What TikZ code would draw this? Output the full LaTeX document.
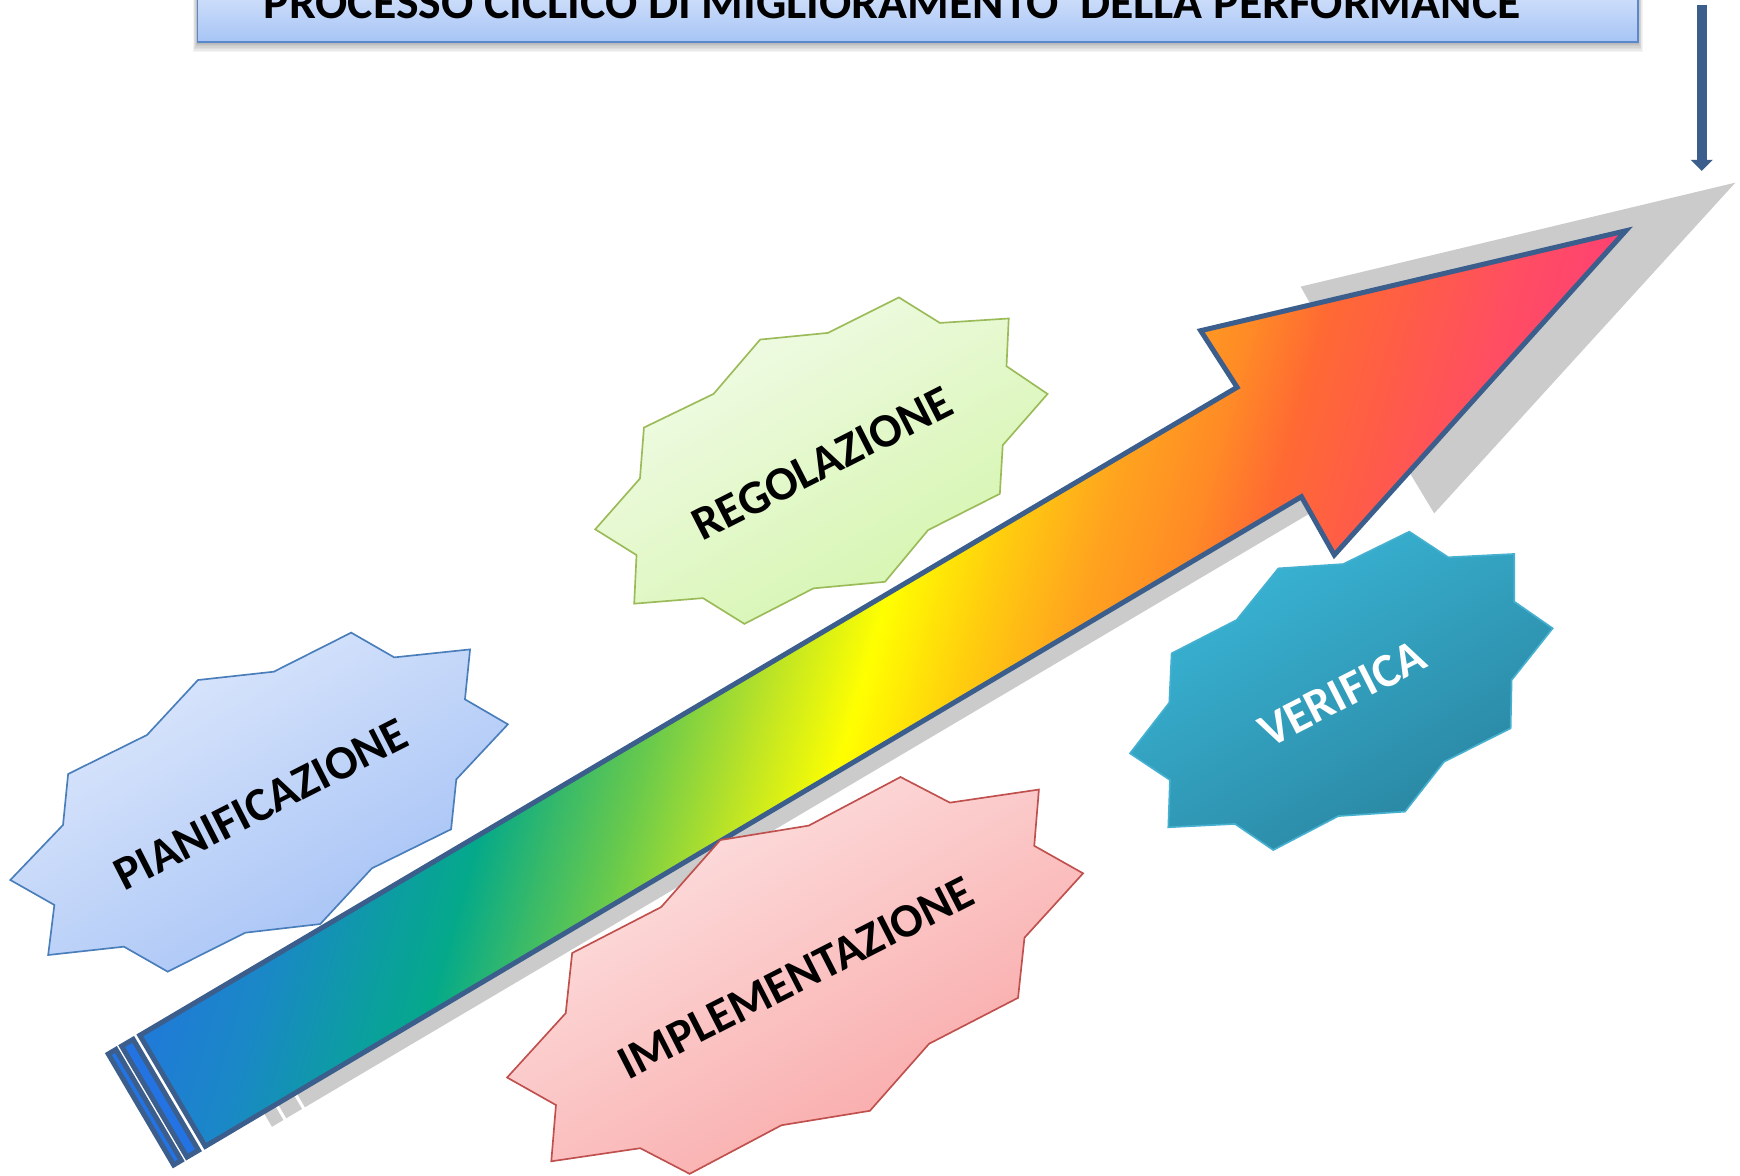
\documentclass[tikz,border=0pt]{standalone}
\usepackage{fontspec}
\setmainfont{Carlito}
\usetikzlibrary{arrows.meta}

\definecolor{edgeblue}{HTML}{3B5E8C}
\definecolor{dropgray}{HTML}{CBCBCB}
\definecolor{titletop}{HTML}{E8EFFE}
\definecolor{titlebot}{HTML}{A6C4F5}
\definecolor{titleedge}{HTML}{5B88CB}
\definecolor{bluetop}{HTML}{DFE9FC}
\definecolor{bluebot}{HTML}{A2C0F5}
\definecolor{blueedge}{HTML}{4A7EBB}
\definecolor{greentop}{HTML}{F2FBE9}
\definecolor{greenbot}{HTML}{D4F5AC}
\definecolor{greenedge}{HTML}{9BBB59}
\definecolor{pinktop}{HTML}{FDE3E3}
\definecolor{pinkbot}{HTML}{F9A5A5}
\definecolor{pinkedge}{HTML}{C0504D}
\definecolor{tealtop}{HTML}{3AB6D7}
\definecolor{tealbot}{HTML}{29849F}
\definecolor{tealedge}{HTML}{46B0D0}
% spectrum stops along the big arrow
\definecolor{g01}{HTML}{2373E2}
\definecolor{g02}{HTML}{1A88C6}
\definecolor{g03}{HTML}{0C9DA2}
\definecolor{g04}{HTML}{04A98A}
\definecolor{g05}{HTML}{36B96A}
\definecolor{g06}{HTML}{6DCB4A}
\definecolor{g07}{HTML}{B8E228}
\definecolor{g08}{HTML}{FFFF00}
\definecolor{g09}{HTML}{FFD00D}
\definecolor{g10}{HTML}{FFA51E}
\definecolor{g11}{HTML}{FF8A26}
\definecolor{g12}{HTML}{FF6A33}
\definecolor{g13}{HTML}{FF5C48}
\definecolor{g14}{HTML}{FF4E62}
\definecolor{g15}{HTML}{FF3C78}

\tikzset{
  startext/.style={font=\fontsize{43}{50}\selectfont\bfseries, inner sep=0pt, rotate=27},
  arrowline/.style={draw=edgeblue, line width=4.5, line join=miter},
  sealline/.style={line width=1.5, line join=miter},
}

\begin{document}
\begin{tikzpicture}[x=1pt,y=-1pt]
\path[use as bounding box, fill=white] (0,0) rectangle (1568,1059);

% ---------- title banner ----------
\foreach \k in {1,...,7}
  \fill[black, opacity=0.045] (178-0.6*\k,-30) rectangle (1476+0.6*\k,38+1.3*\k);
\path[draw=titleedge, line width=1.4, top color=titletop, bottom color=titlebot]
  (178,-30) rectangle (1476,38);
\node[anchor=base, inner sep=0pt, font=\fontsize{43}{50}\selectfont\bfseries] (title)
  at (804,16.5) {PROCESSO CICLICO DI MIGLIORAMENTO\ \ DELLA PERFORMANCE};

% ---------- small vertical arrow ----------
\coordinate (vtop) at (1533.5,4.5);
\coordinate (vend) at (1533.5,154);
\draw[draw=edgeblue, line width=9, -{Triangle[width=19.5pt,length=10pt]}] (vtop) -- (vend);

% ---------- big arrow: key points ----------
\coordinate (e1) at (126,933);
\coordinate (un) at (1114.8,349);
\coordinate (ub) at (1082,298);
\coordinate (tip) at (1465,208);
\coordinate (lb) at (1202.4,500.1);
\coordinate (ln) at (1172.8,447.6);
\coordinate (e2) at (185,1033);

% drop shadow of the arrow
\fill[dropgray] (1563.8,164.6) -- (1172.1,258.3) -- (1203.5,314.1) -- (215.9,897.8)
  -- (274.8,997.8) -- (1263,413.8) -- (1292.4,462.6) -- cycle;
\fill[dropgray] (199.1,907.7) -- (213.3,899.3) -- (272.2,999.3) -- (258.0,1007.7) -- cycle;
\fill[dropgray] (186.2,915.4) -- (196.5,909.3) -- (255.4,1009.3) -- (245.1,1015.4) -- cycle;

% spectrum fill of the arrow body
\begin{scope}
  \clip (e1) -- (un) -- (ub) -- (tip) -- (lb) -- (ln) -- (e2) -- cycle;
  \begin{scope}[transform canvas={rotate=-15.8}]
    \foreach \ta/\tb/\ca/\cb in {
      330/470/g01/g02, 470/560/g02/g03, 560/620/g03/g04, 620/680/g04/g05,
      680/750/g05/g06, 750/830/g06/g07, 830/915/g07/g08, 915/995/g08/g09,
      995/1080/g09/g10, 1080/1165/g10/g11, 1165/1225/g11/g12, 1225/1300/g12/g13,
      1300/1380/g13/g14, 1380/1500/g14/g15}
      \path[left color=\ca, right color=\cb] (\ta,-2000) rectangle (\tb+1,2000);
  \end{scope}
\end{scope}
\draw[arrowline] (e1) -- (un) -- (ub) -- (tip) -- (lb) -- (ln) -- (e2) -- cycle;

% the two stripes at the tail
\draw[arrowline, fill=g01] (109.6,942.7) -- (120.0,936.6) -- (178.9,1036.6) -- (168.5,1042.7) -- cycle;
\draw[arrowline, fill=g01] (97.6,949.8) -- (104.5,945.7) -- (163.4,1045.7) -- (156.5,1049.8) -- cycle;

% ---------- seals ----------
\path[sealline, draw=blueedge, top color=bluetop, bottom color=bluebot, shading angle=30]
  (316.5,570.1) -- (355.3,592.4) -- (423.6,585.2) -- (419,630.2) -- (457.7,652.7)
  -- (411.2,702.3) -- (406.5,747.3) -- (335.1,782.5) -- (288.6,832.7) -- (221,840.5)
  -- (151.1,875.6) -- (111.7,853.1) -- (43.4,860.6) -- (49,815.5) -- (9.3,793)
  -- (56.8,743.4) -- (61.4,697.5) -- (132.5,662.3) -- (178.4,612.8) -- (246.7,605.3) -- cycle;

\path[sealline, draw=greenedge, top color=greentop, bottom color=greenbot, shading angle=30]
  (810,268) -- (847,291) -- (909,287) -- (907,330) -- (944,355)
  -- (903.6,401.2) -- (901,445) -- (836.3,477.7) -- (797.5,524.3) -- (733,530.2)
  -- (670.8,562.2) -- (633.5,539) -- (571.5,544) -- (573.6,500.2) -- (536.4,477)
  -- (576.7,431.2) -- (580.3,385.3) -- (643,355) -- (685,306) -- (746,300) -- cycle;

\path[sealline, draw=tealedge, top color=tealtop, bottom color=tealbot, shading angle=30]
  (1270,479.1) -- (1305.1,502.2) -- (1364.6,499.2) -- (1364.6,542.2) -- (1399.2,566.2)
  -- (1362.2,612.8) -- (1361.3,656.3) -- (1301.3,686.4) -- (1266.1,731.4) -- (1206,735.4)
  -- (1147.4,766) -- (1112.9,742.5) -- (1052.8,745.5) -- (1054.3,702.9) -- (1018.3,678.9)
  -- (1053.7,633.2) -- (1055.8,588.8) -- (1114.4,558.7) -- (1152,512.2) -- (1210.5,508.3) -- cycle;

\path[sealline, draw=pinkedge, top color=pinktop, bottom color=pinkbot, shading angle=30]
  (811.5,700.2) -- (856,723.3) -- (936.2,711.5) -- (932,762.2) -- (976,787)
  -- (923.2,845) -- (917.4,899.2) -- (837.2,940.6) -- (783.9,1001) -- (704.2,1014)
  -- (621.5,1057.8) -- (577,1034.7) -- (496.8,1046.5) -- (501,995.8) -- (457,971)
  -- (509.8,913) -- (515.6,858.8) -- (595.8,817.4) -- (649.1,757) -- (728.8,744) -- cycle;

% ---------- labels ----------
\node[startext] (pian) at (235,725) {PIANIFICAZIONE};
\node[startext] (rego) at (741,417.5) {REGOLAZIONE};
\node[startext, text=white] (veri) at (1209.5,625) {VERIFICA};
\node[startext] (impl) at (717,881) {IMPLEMENTAZIONE};
\end{tikzpicture}
\end{document}
